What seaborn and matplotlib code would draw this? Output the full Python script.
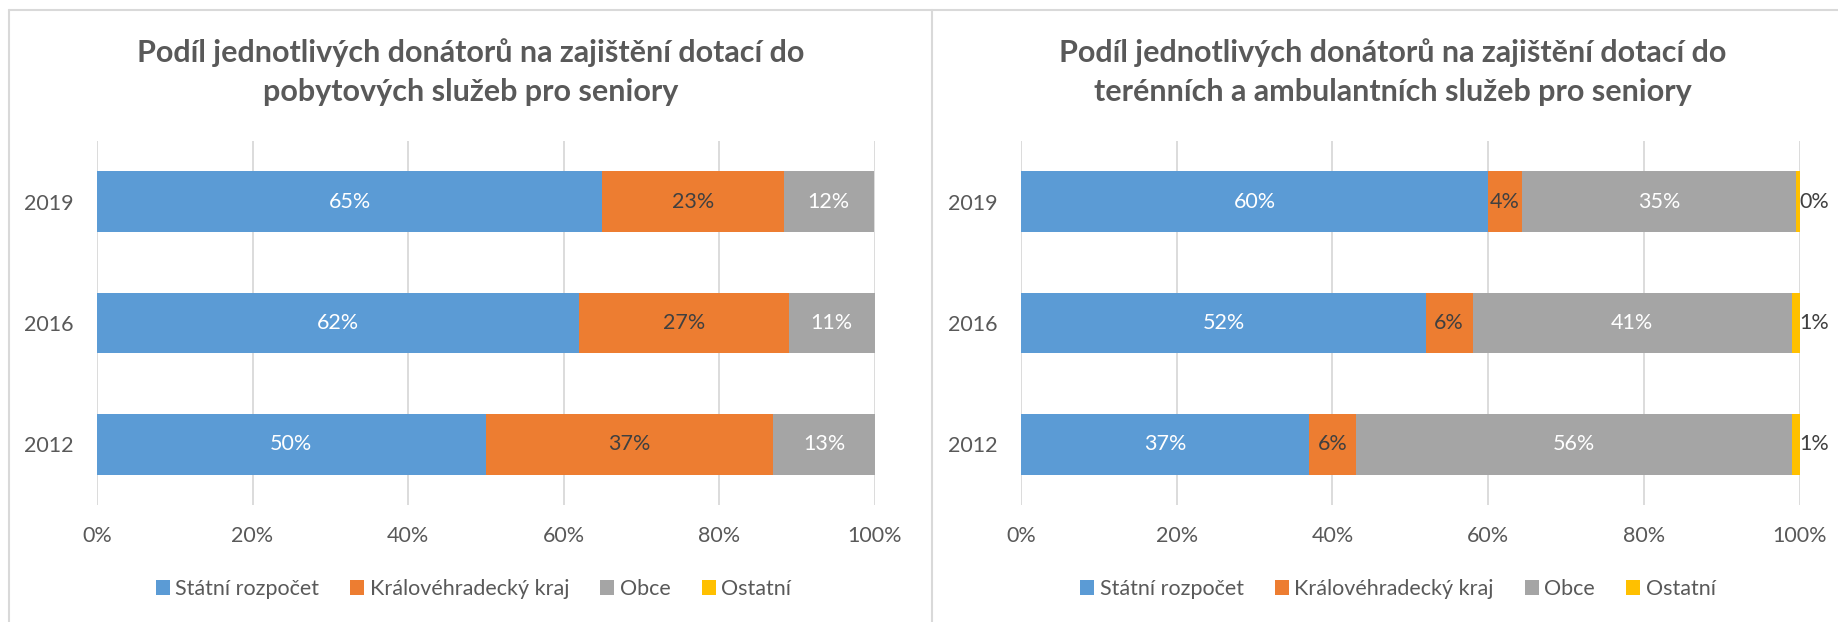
import numpy as np
import pandas as pd
import matplotlib.pyplot as plt
import seaborn as sns
from matplotlib.patches import Patch
from matplotlib.lines import Line2D

# Data
roky = ['2019', '2016', '2012']
donatori = ['Státní rozpočet', 'Královéhradecký kraj', 'Obce', 'Ostatní']
barvy = ['#5B9BD5', '#ED7D31', '#A5A5A5', '#FFC000']

# pobytové služby (podíl v %)
pob_statni = [65.0, 62.0, 50.0]
pob_kraj = [23.3, 27.0, 37.0]
pob_obce = [11.6, 11.0, 13.0]
pob_ostatni = [0.1, 0.0, 0.0]

# terénní a ambulantní služby (podíl v %)
ter_statni = [60.0, 52.0, 37.0]
ter_kraj = [4.3, 6.0, 6.0]
ter_obce = [35.3, 41.0, 56.0]
ter_ostatni = [0.4, 1.0, 1.0]

titulek_pob = ['Podíl jednotlivých donátorů na zajištění dotací do',
               'pobytových služeb pro seniory']
titulek_ter = ['Podíl jednotlivých donátorů na zajištění dotací do',
               'terénních a ambulantních služeb pro seniory']

sns.set_style('white')
plt.rcParams['font.family'] = ['Lato', 'DejaVu Sans']

W, H = 1838, 622
fig = plt.figure(figsize=(W / 100, H / 100), dpi=100)

sedy = '#595959'
tmavy = '#404040'


def graf(ax, hodnoty, popisky_ostatni):
    df = pd.DataFrame(dict(zip(donatori, hodnoty)), index=roky)
    zleva = np.zeros(len(roky))
    for jmeno, barva in zip(donatori, barvy):
        sns.barplot(x=df[jmeno].values, y=roky, order=roky, orient='y',
                    color=barva, saturation=1, width=0.5, errorbar=None,
                    left=zleva, linewidth=0, ax=ax)
        zleva = zleva + df[jmeno].values

    barva_txt = ['white', tmavy, 'white']
    for cont, jmeno, bt in zip(ax.containers[:3], donatori[:3], barva_txt):
        ax.bar_label(cont, labels=[f'{v:.0f}%' for v in df[jmeno]],
                     label_type='center', color=bt, fontsize=15.5)
    if popisky_ostatni:
        ax.bar_label(ax.containers[3],
                     labels=[f'{v:.0f}%' for v in df['Ostatní']],
                     label_type='edge', padding=0, color=tmavy, fontsize=15.5)

    ax.set_xlim(0, 100)
    ax.set_ylim(2.5, -0.5)
    ax.set_xticks(np.arange(0, 101, 20))
    ax.set_xticklabels([f'{t}%' for t in range(0, 101, 20)])
    ax.grid(axis='x', color='#D9D9D9', linewidth=1.3)
    ax.grid(axis='y', visible=False)
    ax.set_axisbelow(True)
    sns.despine(ax=ax, left=True, bottom=True)
    ax.tick_params(axis='both', length=0, labelsize=15.5, colors=sedy)
    ax.tick_params(axis='y', pad=17)
    ax.tick_params(axis='x', pad=15)
    ax.set_xlabel('')
    ax.set_ylabel('')


# levý graf
ax1 = fig.add_axes([97 / W, 1 - 505 / H, 777.5 / W, 364 / H])
graf(ax1, [pob_statni, pob_kraj, pob_obce, pob_ostatni], False)

# pravý graf
ax2 = fig.add_axes([1021 / W, 1 - 505 / H, 778.5 / W, 364 / H])
graf(ax2, [ter_statni, ter_kraj, ter_obce, ter_ostatni], True)

# titulky
for cx, tit in [(470.5, titulek_pob), (1393, titulek_ter)]:
    fig.text(cx / W, 1 - 53 / H, tit[0], ha='center', va='center',
             fontsize=22, fontweight='bold', color=sedy)
    fig.text(cx / W, 1 - 92 / H, tit[1], ha='center', va='center',
             fontsize=22, fontweight='bold', color=sedy)

# legendy
handles = [Patch(facecolor=b, edgecolor='none') for b in barvy]
for cx in [473.5, 1398]:
    fig.legend(handles, donatori, loc='center', bbox_to_anchor=(cx / W, 1 - 589 / H),
               ncol=4, frameon=False, fontsize=15.5, labelcolor=sedy,
               handlelength=0.65, handleheight=0.65, handletextpad=0.25,
               columnspacing=1.45)

# rámečky panelů
ramecek = '#D9D9D9'
fig.add_artist(Line2D([9 / W, 9 / W], [0, 1 - 10 / H], color=ramecek, lw=1.5))
fig.add_artist(Line2D([932 / W, 932 / W], [0, 1 - 10 / H], color=ramecek, lw=1.5))
fig.add_artist(Line2D([9 / W, 1], [1 - 10 / H, 1 - 10 / H], color=ramecek, lw=1.5))

fig.savefig('out.png', dpi=100)
